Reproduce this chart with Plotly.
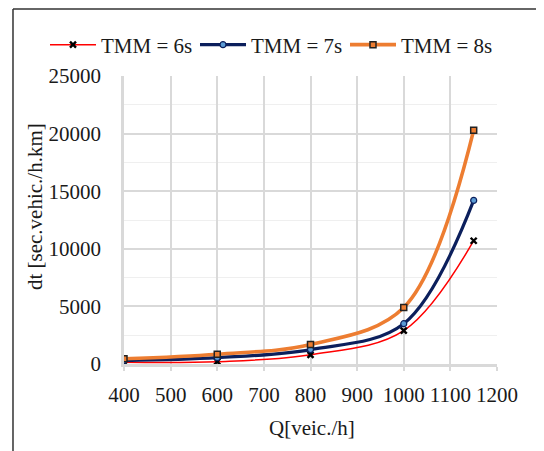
import plotly.graph_objects as go

q = [400, 600, 800, 1000, 1150]
tmm6 = [150, 200, 800, 2900, 10700]
tmm7 = [300, 550, 1250, 3500, 14200]
tmm8 = [450, 850, 1700, 4900, 20300]
x_ticks = [400, 500, 600, 700, 800, 900, 1000, 1100, 1200]
y_ticks = [0, 5000, 10000, 15000, 20000, 25000]

FONT = "Liberation Serif"
FS = 21

fig = go.Figure()
fig.add_trace(go.Scatter(
    x=q, y=tmm6, name="TMM = 6s", mode="lines+markers",
    line=dict(color="#FF0000", width=1.5, shape="spline", smoothing=1),
    marker=dict(symbol="x-thin", size=6, color="#000000",
                line=dict(color="#000000", width=2.4))))
fig.add_trace(go.Scatter(
    x=q, y=tmm7, name="TMM = 7s", mode="lines+markers",
    line=dict(color="#0B1F5C", width=3.2, shape="spline", smoothing=1),
    marker=dict(symbol="circle", size=6, color="#5B9BD5",
                line=dict(color="#0B1F5C", width=1.2))))
fig.add_trace(go.Scatter(
    x=q, y=tmm8, name="TMM = 8s", mode="lines+markers",
    line=dict(color="#ED7D31", width=3.6, shape="spline", smoothing=1),
    marker=dict(symbol="square", size=6, color="#ED7D31",
                line=dict(color="#222222", width=1.5))))

# frame lines (top and left)
fig.add_shape(type="line", xref="paper", yref="paper",
              x0=-0.2976, x1=1.2, y0=1.2326, y1=1.2326,
              line=dict(color="#333333", width=1.5))
fig.add_shape(type="line", xref="paper", yref="paper",
              x0=-0.2976, x1=-0.2976, y0=1.2326, y1=-0.35,
              line=dict(color="#333333", width=1.5))

# axis titles
fig.add_annotation(text="Q[veic./h]", xref="paper", yref="paper",
                   x=0.504, y=-0.222, xanchor="center", yanchor="middle",
                   showarrow=False, font=dict(family=FONT, size=FS, color="#1a1a1a"))
fig.add_annotation(text="dt [sec.vehic./h.km]", xref="paper", yref="paper",
                   x=-0.2386, y=0.545, xanchor="center", yanchor="middle", textangle=-90,
                   showarrow=False, font=dict(family=FONT, size=FS, color="#1a1a1a"))

fig.update_layout(
    width=536, height=443,
    margin=dict(l=116, r=47, t=68, b=87),
    paper_bgcolor="white", plot_bgcolor="white",
    font=dict(family=FONT, size=FS, color="#1a1a1a"),
    showlegend=True,
    legend=dict(orientation="h", x=-0.2118, xanchor="left", y=1.1076, yanchor="middle",
                font=dict(family=FONT, size=FS), itemwidth=46,
                entrywidth=89, entrywidthmode="pixels",
                tracegroupgap=0, bgcolor="rgba(0,0,0,0)"),
    xaxis=dict(range=[400, 1200], tickvals=x_ticks, ticktext=[str(v) for v in x_ticks],
               showgrid=True, gridcolor="#d9d9d9", gridwidth=1.5,
               ticks="outside", ticklen=4, tickcolor="#d9d9d9", tickwidth=1.5,
               showline=True, linecolor="#d9d9d9", linewidth=2.5,
               zeroline=False, ticklabelstandoff=6),
    yaxis=dict(range=[0, 25000], tickvals=y_ticks, ticktext=[str(v) for v in y_ticks],
               showgrid=True, gridcolor="#d9d9d9", gridwidth=1.5,
               minor=dict(dtick=2500, showgrid=True, gridcolor="#efefef", gridwidth=1),
               ticks="", showline=True, linecolor="#d9d9d9", linewidth=2.5,
               zeroline=False, ticklabelstandoff=16),
)

fig.write_html("out.html")
